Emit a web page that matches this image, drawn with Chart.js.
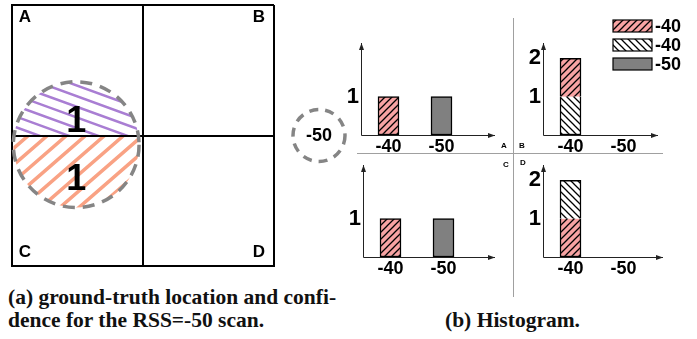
<!DOCTYPE html>
<html>
<head>
<meta charset="utf-8">
<script src="https://cdn.jsdelivr.net/npm/chart.js@4/dist/chart.umd.min.js"></script>
<style>
  html, body { margin: 0; padding: 0; background: #fff; }
  #page { position: relative; width: 697px; height: 339px; overflow: hidden; background: #fff; }
  canvas { position: absolute; }
  .rule { position: absolute; background: #a0a0a0; }
  .cap { position: absolute; font-family: 'Liberation Serif', 'DejaVu Serif', serif; font-weight: bold;
         font-size: 21.5px; line-height: 23px; color: #111; white-space: nowrap; }
</style>
</head>
<body>
<div id="page">
  <canvas id="area" width="355" height="280" style="left:0;top:0"></canvas>
  <div class="rule" style="left:513px;top:18px;width:1px;height:279px"></div>
  <div class="rule" style="left:357px;top:153px;width:306px;height:1px"></div>
  <canvas id="histA" width="180" height="150" style="left:336px;top:13px"></canvas>
  <canvas id="histB" width="180" height="150" style="left:518px;top:13px"></canvas>
  <canvas id="histC" width="180" height="150" style="left:338px;top:135px"></canvas>
  <canvas id="histD" width="180" height="150" style="left:518px;top:135px"></canvas>
  <div class="cap" style="left:8px;top:286px">(a) ground-truth location and confi-<br>dence for the RSS=-50 scan.</div>
  <div class="cap" style="left:445px;top:309px">(b) Histogram.</div>
</div>
<script>
// ---- data ----
const cellNames = ['A', 'B', 'C', 'D'];
const cellCornerX = [0, 2, 0, 2];
const cellCornerY = [2, 2, 0, 0];
const scanRss = -50;
const scanCenter = [0.49, 0.93];   // in grid units
const scanRadius = 0.48;
const confCounts = [1, 1];         // upper part (A), lower part (C)
const confX = [0.49, 0.49];
const confY = [1.12, 0.67];

const rssLabels = ['-40', '-50'];
const legendLabels = ['-40', '-40', '-50'];
const histA_red = [1, 0], histA_white = [0, 0], histA_gray = [0, 1];
const histB_red = [1, 0], histB_white = [1, 0], histB_gray = [0, 0];
const histC_red = [1, 0], histC_white = [0, 0], histC_gray = [0, 1];
const histD_red = [1, 0], histD_white = [1, 0], histD_gray = [0, 0];
const yTicksA = [1], yTicksB = [1, 2], yTicksC = [1], yTicksD = [1, 2];

Chart.defaults.font.family = "'Liberation Sans', Arial, sans-serif";
Chart.defaults.color = '#000';

function makeHatch(bg, dir, size, lw) {
    const c = document.createElement('canvas');
    c.width = c.height = size;
    const g = c.getContext('2d');
    g.fillStyle = bg;
    g.fillRect(0, 0, size, size);
    g.strokeStyle = '#000';
    g.lineWidth = lw;
    g.beginPath();
    if (dir === '/') {
        g.moveTo(-1, size + 1); g.lineTo(size + 1, -1);
        g.moveTo(-1, 1); g.lineTo(1, -1);
        g.moveTo(size - 1, size + 1); g.lineTo(size + 1, size - 1);
    } else {
        g.moveTo(-1, -1); g.lineTo(size + 1, size + 1);
        g.moveTo(size - 1, -1); g.lineTo(size + 1, 1);
        g.moveTo(-1, size - 1); g.lineTo(1, size + 1);
    }
    g.stroke();
    return g.createPattern(c, 'repeat');
}

const redFill = makeHatch('#f8a3a3', '/', 7, 1.3);
const whiteFill = makeHatch('#ffffff', '\\', 7, 1.3);
const grayFill = '#808080';

// no border between two stacked pieces of the same bar
function skipSide(c) {
    const chart = c.chart;
    const i = c.dataIndex;
    const pieces = chart.data.datasets
        .map((ds, k) => ({ k, order: ds.order || 0, v: ds.data[i] || 0 }))
        .filter(p => p.v > 0)
        .sort((a, b) => a.order - b.order || a.k - b.k);
    if (pieces.length < 2) return false;
    if (pieces[0].k === c.datasetIndex) return 'end';
    if (pieces[pieces.length - 1].k === c.datasetIndex) return 'start';
    return false;
}

function drawArrow(ctx, x0, y0, x1, y1) {
    const a = Math.atan2(y1 - y0, x1 - x0);
    ctx.beginPath();
    ctx.moveTo(x0, y0);
    ctx.lineTo(x1, y1);
    ctx.stroke();
    ctx.beginPath();
    ctx.moveTo(x1, y1);
    ctx.lineTo(x1 - 7 * Math.cos(a) + 2.5 * Math.sin(a), y1 - 7 * Math.sin(a) - 2.5 * Math.cos(a));
    ctx.lineTo(x1 - 7 * Math.cos(a) - 2.5 * Math.sin(a), y1 - 7 * Math.sin(a) + 2.5 * Math.cos(a));
    ctx.closePath();
    ctx.fill();
}

function makeHist(id, red, white, gray, redOrder, whiteOrder, yTicks, deco) {
    const nz = (arr) => arr.map(v => (v ? v : null));
    const common = { barThickness: 21, borderWidth: 1.5, borderColor: '#000', borderSkipped: skipSide };

    const plugin = {
        id: 'histDeco' + id,
        afterDraw(chart) {
            const { ctx, chartArea: a } = chart;
            ctx.save();
            ctx.strokeStyle = '#222';
            ctx.fillStyle = '#222';
            ctx.lineWidth = 1;
            drawArrow(ctx, a.left - 0.5, a.bottom + 0.5, a.left - 0.5, a.top);
            drawArrow(ctx, a.left - 0.5, a.bottom + 0.5, a.right + deco.arrowExt, a.bottom + 0.5);

            ctx.fillStyle = '#000';
            ctx.font = "bold 8px 'Liberation Sans', Arial";
            ctx.textAlign = 'center';
            ctx.textBaseline = 'middle';
            ctx.fillText(deco.corner, deco.cornerX(a), deco.cornerY(a));

            if (deco.legend) {
                const x0 = a.right - 37;
                chart.data.datasets.forEach((ds, i) => {
                    const y0 = a.top - 23 + i * 19;
                    ctx.fillStyle = ds.backgroundColor;
                    ctx.fillRect(x0, y0, 39, 12);
                    ctx.strokeStyle = '#000';
                    ctx.lineWidth = 1.2;
                    ctx.strokeRect(x0, y0, 39, 12);
                    ctx.fillStyle = '#000';
                    ctx.font = "bold 18px 'Liberation Sans', Arial";
                    ctx.textAlign = 'left';
                    ctx.fillText(ds.label, x0 + 42, y0 + 7);
                });
            }
            ctx.restore();
        },
    };

    return new Chart(document.getElementById(id).getContext('2d'), {
        type: 'bar',
        data: {
            labels: rssLabels,
            datasets: [
                { label: legendLabels[0], data: nz(red), backgroundColor: redFill, order: redOrder, ...common },
                { label: legendLabels[1], data: nz(white), backgroundColor: whiteFill, order: whiteOrder, ...common },
                { label: legendLabels[2], data: nz(gray), backgroundColor: grayFill, order: 3, ...common },
            ],
        },
        options: {
            responsive: false,
            animation: false,
            devicePixelRatio: 1,
            layout: { padding: { left: 4, top: 30, right: 48, bottom: 6 } },
            plugins: { legend: { display: false }, tooltip: { enabled: false } },
            scales: {
                x: {
                    stacked: true,
                    grid: { display: false, drawTicks: false },
                    border: { display: false },
                    ticks: { font: { size: 18, weight: 'bold' }, padding: 1, maxRotation: 0 },
                    afterFit: (s) => { s.height = 22; },
                },
                y: {
                    stacked: true,
                    min: 0,
                    max: 2.4,
                    grid: { display: false, drawTicks: false },
                    border: { display: false },
                    afterBuildTicks: (s) => { s.ticks = yTicks.map(v => ({ value: v })); },
                    ticks: { font: { size: 22, weight: 'bold' }, padding: 3 },
                    afterFit: (s) => { s.width = 22; },
                },
            },
        },
        plugins: [plugin],
    });
}

makeHist('histA', histA_red, histA_white, histA_gray, 1, 2, yTicksA, {
    arrowExt: 27, corner: 'A', cornerX: a => a.right + 36, cornerY: a => a.bottom + 11,
});
makeHist('histB', histB_red, histB_white, histB_gray, 2, 1, yTicksB, {
    arrowExt: 8, corner: 'B', cornerX: a => a.left - 22, cornerY: a => a.bottom + 11, legend: true,
});
makeHist('histC', histC_red, histC_white, histC_gray, 1, 2, yTicksC, {
    arrowExt: 25, corner: 'C', cornerX: a => a.right + 36, cornerY: a => a.top,
});
makeHist('histD', histD_red, histD_white, histD_gray, 1, 2, yTicksD, {
    arrowExt: 13, corner: 'D', cornerX: a => a.left - 21, cornerY: a => a.top - 2,
});

// ---- panel (a): grid of cells with the scan's confidence circle ----
const upperHatch = { color: '#a97ed3', angle: 20, gap: 10, width: 2.5 };
const lowerHatch = { color: '#f9a284', angle: -41, gap: 12.5, width: 3.5 };

function hatchPart(ctx, cx, cy, r, yTop, yBot, h) {
    ctx.save();
    ctx.beginPath();
    ctx.rect(cx - r - 2, yTop, 2 * r + 4, yBot - yTop);
    ctx.clip();
    ctx.beginPath();
    ctx.arc(cx, cy, r, 0, Math.PI * 2);
    ctx.clip();
    ctx.translate(cx, cy);
    ctx.rotate(h.angle * Math.PI / 180);
    ctx.strokeStyle = h.color;
    ctx.lineWidth = h.width;
    ctx.beginPath();
    for (let d = -2 * r; d <= 2 * r; d += h.gap) {
        ctx.moveTo(-2 * r, d);
        ctx.lineTo(2 * r, d);
    }
    ctx.stroke();
    ctx.restore();
}

const areaPlugin = {
    id: 'scanArea',
    beforeDraw(chart) {
        const { ctx, scales: { x, y } } = chart;
        const cx = x.getPixelForValue(scanCenter[0]);
        const cy = y.getPixelForValue(scanCenter[1]);
        const r = x.getPixelForValue(scanRadius) - x.getPixelForValue(0);
        const split = y.getPixelForValue(1);
        hatchPart(ctx, cx, cy, r, cy - r - 4, split, upperHatch);
        hatchPart(ctx, cx, cy, r, split, cy + r + 4, lowerHatch);
    },
    afterDraw(chart) {
        const { ctx, chartArea: a, scales: { x, y } } = chart;
        const cx = x.getPixelForValue(scanCenter[0]);
        const cy = y.getPixelForValue(scanCenter[1]);
        const r = x.getPixelForValue(scanRadius) - x.getPixelForValue(0);
        ctx.save();
        ctx.strokeStyle = '#858585';
        ctx.lineWidth = 3.5;
        ctx.setLineDash([12, 8]);
        ctx.beginPath();
        ctx.arc(cx, cy, r, 0, Math.PI * 2);
        ctx.stroke();

        // the scan itself, next to the grid
        const sx = a.right + 45;
        const sy = y.getPixelForValue(1);
        ctx.lineWidth = 3.5;
        ctx.setLineDash([9, 7]);
        ctx.beginPath();
        ctx.arc(sx, sy, 26, 0, Math.PI * 2);
        ctx.stroke();
        ctx.setLineDash([]);

        ctx.fillStyle = '#000';
        ctx.textAlign = 'center';
        ctx.textBaseline = 'middle';
        ctx.font = "bold 18px 'Liberation Sans', Arial";
        ctx.fillText(String(scanRss), sx, sy + 1);

        ctx.font = "bold 36px 'Liberation Sans', Arial";
        confCounts.forEach((n, i) => {
            ctx.fillText(String(n), x.getPixelForValue(confX[i]), y.getPixelForValue(confY[i]) + 2);
        });

        ctx.font = "bold 17px 'Liberation Sans', Arial";
        cellNames.forEach((name, i) => {
            const px = x.getPixelForValue(cellCornerX[i]) + (cellCornerX[i] === 0 ? 13 : -15);
            const py = y.getPixelForValue(cellCornerY[i]) + (cellCornerY[i] === 2 ? 12 : -14);
            ctx.fillText(name, px, py);
        });
        ctx.restore();
    },
};

const gridScale = (isX) => ({
    min: 0,
    max: 2,
    ticks: { display: false, stepSize: 1 },
    grid: { color: '#000', lineWidth: 2, drawTicks: false },
    border: { color: '#000', width: 2 },
    afterFit: (s) => { if (isX) s.height = 0; else s.width = 0; },
});

new Chart(document.getElementById('area').getContext('2d'), {
    type: 'scatter',
    data: {
        datasets: [{ data: confX.map((v, i) => ({ x: v, y: confY[i] })), pointRadius: 0 }],
    },
    options: {
        responsive: false,
        animation: false,
        devicePixelRatio: 1,
        layout: { padding: { left: 12, top: 5, right: 81, bottom: 14 } },
        plugins: { legend: { display: false }, tooltip: { enabled: false } },
        scales: { x: gridScale(true), y: gridScale(false) },
    },
    plugins: [areaPlugin],
});
</script>
</body>
</html>
